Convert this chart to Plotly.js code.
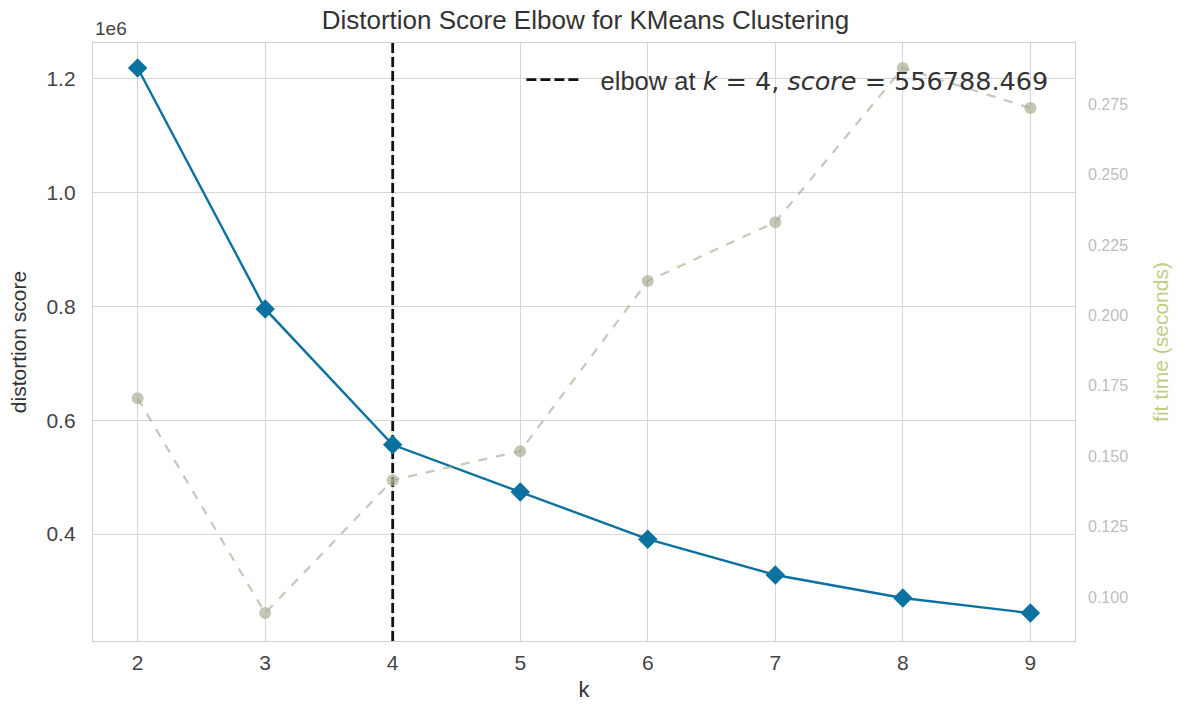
<!DOCTYPE html>
<html>
<head>
<meta charset="utf-8">
<script src="https://cdn.plot.ly/plotly-3.0.1.min.js"></script>
<style>html,body{margin:0;padding:0;background:#fff;}#chart{width:1185px;height:705px;}</style>
</head>
<body>
<div id="chart"></div>
<script>
// Data
const kValues = [2, 3, 4, 5, 6, 7, 8, 9];
const distortionScores = [1219000, 795600, 556788.469, 474000, 391000, 328000, 287500, 261000];
const fitTimes = [0.1706, 0.0943, 0.1415, 0.1518, 0.2122, 0.2331, 0.2878, 0.2736];
const elbowK = 4;
const elbowScore = 556788.469;
const xTickVals = [2, 3, 4, 5, 6, 7, 8, 9];
const yTickVals = [400000, 600000, 800000, 1000000, 1200000];
const yTickText = ["0.4", "0.6", "0.8", "1.0", "1.2"];
const y2TickVals = [0.100, 0.125, 0.150, 0.175, 0.200, 0.225, 0.250, 0.275];
const y2TickText = ["0.100", "0.125", "0.150", "0.175", "0.200", "0.225", "0.250", "0.275"];

const yRange = [212000, 1263000];
const y2Range = [0.0844, 0.2967];

const FONT = "Liberation Sans, Arial, sans-serif";
const blue = "#0b72a0";
const timeColor = "rgba(160,165,140,0.6)";

const mathSpan = (s) => '<span style="font-family:DejaVu Sans">' + s + '</span>';
const legendName = "&nbsp;&nbsp;elbow at " + mathSpan("<i>k</i> = " + elbowK + ", <i>score</i> = " + elbowScore.toFixed(3));

const traces = [
  {
    x: [elbowK, elbowK], y: yRange, mode: "lines", type: "scatter",
    name: legendName,
    line: {color: "#111", width: 2.8, dash: "10px,4px"},
    hoverinfo: "skip", showlegend: true, xaxis: "x", yaxis: "y"
  },
  {
    x: kValues, y: distortionScores, mode: "lines+markers", type: "scatter",
    name: "distortion score", showlegend: false,
    line: {color: blue, width: 2.4},
    marker: {symbol: "diamond", size: 15, color: blue},
    xaxis: "x", yaxis: "y"
  },
  {
    x: kValues, y: fitTimes, mode: "lines+markers", type: "scatter",
    name: "fit time", showlegend: false,
    line: {color: timeColor, width: 2.2, dash: "dash"},
    marker: {symbol: "circle", size: 12, color: "rgba(170,175,150,0.7)"},
    xaxis: "x", yaxis: "y2"
  }
];

const layout = {
  width: 1185, height: 705,
  paper_bgcolor: "#fff", plot_bgcolor: "#fff",
  margin: {l: 93, r: 110, t: 43, b: 64},
  font: {family: FONT, size: 20, color: "#333"},
  title: {text: "Distortion Score Elbow for KMeans Clustering", x: 0.494, xanchor: "center", y: 0.972, yanchor: "middle",
          font: {family: FONT, size: 26, color: "#333"}},
  showlegend: true,
  legend: {x: 0.978, xanchor: "right", y: 0.938, yanchor: "middle", bgcolor: "rgba(255,255,255,0)",
           itemwidth: 55, font: {family: FONT, size: 25.5, color: "#333"}},
  xaxis: {
    range: [1.65, 9.35], tickvals: xTickVals, ticktext: xTickVals.map(String),
    showgrid: true, gridcolor: "#d6d6d6", gridwidth: 1, zeroline: false,
    showline: true, linecolor: "#cfcfcf", linewidth: 1.2, mirror: true,
    ticks: "", ticklabelstandoff: 3, tickfont: {size: 21, color: "#444"},
    title: {text: "k", font: {size: 22, color: "#333"}, standoff: 8}
  },
  yaxis: {
    range: yRange, tickvals: yTickVals, ticktext: yTickText,
    showgrid: true, gridcolor: "#d6d6d6", gridwidth: 1, zeroline: false,
    showline: true, linecolor: "#cfcfcf", linewidth: 1.2, mirror: true,
    ticks: "", ticklabelstandoff: 12, tickfont: {size: 21, color: "#444"},
    title: {text: "distortion score", font: {size: 21, color: "#333"}, standoff: 14}
  },
  yaxis2: {
    overlaying: "y", side: "right", range: y2Range,
    tickvals: y2TickVals, ticktext: y2TickText,
    showgrid: false, zeroline: false, showline: false, ticks: "",
    ticklabelstandoff: 12,
    tickfont: {size: 16, color: "rgba(150,150,150,0.65)"},
    title: {text: "fit time (seconds)", font: {size: 21, color: "rgba(170,190,90,0.75)"}, standoff: 26}
  },
  annotations: [
    {text: "1e6", xref: "paper", yref: "paper", x: 0, y: 1, xanchor: "left", yanchor: "bottom",
     yshift: 2, showarrow: false, font: {family: FONT, size: 19, color: "#444"}}
  ]
};

Plotly.newPlot("chart", traces, layout, {displayModeBar: false, staticPlot: true});
</script>
</body>
</html>
